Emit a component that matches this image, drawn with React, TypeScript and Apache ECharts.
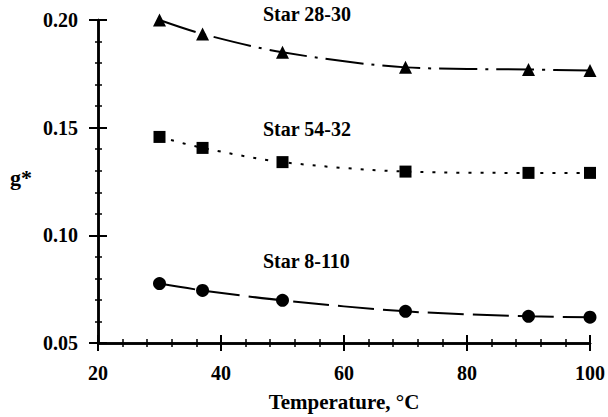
import React, { useEffect, useRef } from "react";
import * as echarts from "echarts";

const temperatures = [30, 37, 50, 70, 90, 100];
const star2830 = [0.2, 0.1935, 0.185, 0.178, 0.177, 0.1765];
const star5432 = [0.1457, 0.1406, 0.134, 0.1296, 0.129, 0.129];
const star8110 = [0.0776, 0.0744, 0.0698, 0.0647, 0.0624, 0.062];
const seriesNames = ["Star 28-30", "Star 54-32", "Star 8-110"];
const xTicks = [20, 40, 60, 80, 100];
const yTicks = [0.05, 0.1, 0.15, 0.2];

const FONT = "'Liberation Serif', 'DejaVu Serif', serif";

export default function App() {
  const ref = useRef<HTMLDivElement>(null);
  useEffect(() => {
    if (!ref.current) return;
    const chart = echarts.init(ref.current, null, { renderer: "svg" });
    const pair = (ys: number[]) => temperatures.map((t, i) => [t, ys[i]]);
    const labelStyle = {
      fontFamily: FONT,
      fontWeight: "bold" as const,
      fontSize: 20,
      color: "#000",
    };
    const baseAxisLine = { show: true, lineStyle: { color: "#000", width: 2.5 } };
    const xCommon = {
      type: "value" as const,
      min: 20,
      max: 100,
      interval: 20,
      splitLine: { show: false },
      axisLine: baseAxisLine,
    };
    const yCommon = {
      type: "value" as const,
      min: 0.05,
      max: 0.2,
      interval: 0.05,
      splitLine: { show: false },
      axisLine: baseAxisLine,
    };
    const mkSeries = (
      name: string,
      ys: number[],
      symbol: string,
      size: number,
      dash: number[]
    ) => ({
      name,
      type: "line",
      xAxisIndex: 0,
      yAxisIndex: 0,
      data: pair(ys),
      symbol,
      symbolSize: size,
      smooth: 0.3,
      itemStyle: { color: "#000" },
      lineStyle: { color: "#000", width: 2, type: dash },
    });
    chart.setOption({
      animation: false,
      backgroundColor: "#fff",
      grid: { left: 98, right: 18, top: 20, bottom: 71, containLabel: false },
      xAxis: [
        {
          ...xCommon,
          position: "bottom",
          axisTick: { show: true, inside: false, length: 8, lineStyle: { color: "#000", width: 2 } },
          minorTick: { show: true, splitNumber: 5, length: 4, lineStyle: { color: "#000", width: 1.5 } },
          axisLabel: {
            ...labelStyle,
            margin: 20,
            customValues: xTicks,
            formatter: (v: number) => String(v),
          },
        },
        {
          ...xCommon,
          position: "bottom",
          axisTick: { show: true, inside: true, length: 8, lineStyle: { color: "#000", width: 2 } },
          minorTick: { show: true, splitNumber: 5, length: 4, lineStyle: { color: "#000", width: 1.5 } },
          axisLabel: { show: false },
          name: "Temperature, °C",
          nameLocation: "middle",
          nameGap: 48,
          nameTextStyle: { ...labelStyle, fontSize: 21 },
        },
      ],
      yAxis: [
        {
          ...yCommon,
          position: "left",
          axisTick: { show: true, inside: false, length: 9, lineStyle: { color: "#000", width: 2 } },
          minorTick: { show: true, splitNumber: 5, length: 3, lineStyle: { color: "#000", width: 1.5 } },
          axisLabel: {
            ...labelStyle,
            margin: 20,
            customValues: yTicks,
            formatter: (v: number) => v.toFixed(2),
          },
        },
        {
          ...yCommon,
          position: "left",
          axisTick: { show: true, inside: true, length: 9, lineStyle: { color: "#000", width: 2 } },
          minorTick: { show: true, splitNumber: 5, length: 4, lineStyle: { color: "#000", width: 1.5 } },
          axisLabel: { show: false },
        },
      ],
      graphic: [
        {
          type: "text",
          left: 10,
          top: 166,
          style: { text: "g*", font: `bold 22px ${FONT}`, fill: "#000" },
        },
        {
          type: "text",
          left: 263,
          top: 4,
          style: { text: seriesNames[0], font: `bold 20px ${FONT}`, fill: "#000" },
        },
        {
          type: "text",
          left: 263,
          top: 119,
          style: { text: seriesNames[1], font: `bold 20px ${FONT}`, fill: "#000" },
        },
        {
          type: "text",
          left: 263,
          top: 251,
          style: { text: seriesNames[2], font: `bold 20px ${FONT}`, fill: "#000" },
        },
      ],
      series: [
        mkSeries(seriesNames[0], star2830, "triangle", 13, [38, 8, 3, 8]),
        mkSeries(seriesNames[1], star5432, "rect", 12, [3, 9]),
        mkSeries(seriesNames[2], star8110, "circle", 13, [36, 9]),
      ],
    });
    return () => chart.dispose();
  }, []);
  return (
    <div
      ref={ref}
      style={{ position: "fixed", left: 0, top: 0, width: 608, height: 417 }}
    />
  );
}
